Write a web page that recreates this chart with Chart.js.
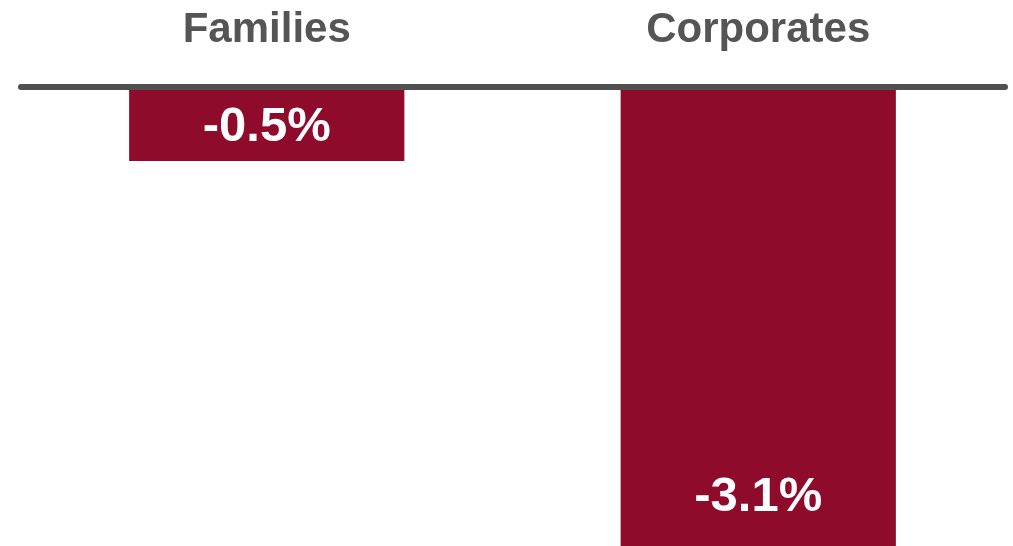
<!DOCTYPE html>
<html>
<head>
<meta charset="utf-8">
<script src="https://cdn.jsdelivr.net/npm/chart.js@4.4.1/dist/chart.umd.min.js"></script>
<style>
  html, body { margin: 0; padding: 0; background: #ffffff; overflow: hidden; }
  #wrap { width: 1013px; height: 546px; position: relative; }
</style>
</head>
<body>
<div id="wrap"><canvas id="c" width="1013" height="546"></canvas></div>
<script>
const categories = ['Families', 'Corporates'];
const values = [-0.5, -3.1];
const valueLabels = ['-0.5%', '-3.1%'];

const FONT = "'Liberation Sans', Arial, Helvetica, sans-serif";

const zeroLine = {
  id: 'zeroLine',
  afterDatasetsDraw(chart) {
    const ctx = chart.ctx;
    const y = chart.scales.y.getPixelForValue(0);
    ctx.save();
    ctx.strokeStyle = '#505050';
    ctx.lineWidth = 6;
    ctx.lineCap = 'round';
    ctx.beginPath();
    ctx.moveTo(21, y);
    ctx.lineTo(1005, y);
    ctx.stroke();
    ctx.restore();
  }
};

const valueLabelPlugin = {
  id: 'valueLabels',
  afterDraw(chart) {
    const ctx = chart.ctx;
    const meta = chart.getDatasetMeta(0);
    const area = chart.chartArea;
    ctx.save();
    ctx.fillStyle = '#ffffff';
    ctx.font = 'bold 49px ' + FONT;
    ctx.textAlign = 'center';
    ctx.textBaseline = 'middle';
    meta.data.forEach((bar, i) => {
      const end = Math.min(bar.y, area.bottom);
      const mid = (bar.base + end) / 2 + 3;
      const y = Math.max(mid, end - 49);
      ctx.fillText(valueLabels[i], bar.x, y);
    });
    ctx.restore();
  }
};

new Chart(document.getElementById('c'), {
  type: 'bar',
  data: {
    labels: categories,
    datasets: [{
      data: values,
      backgroundColor: '#8E0B2C',
      borderWidth: 0,
      barPercentage: 0.56,
      categoryPercentage: 1.0
    }]
  },
  options: {
    responsive: false,
    animation: false,
    layout: { padding: { left: 21, right: 9, top: 0, bottom: 0 } },
    plugins: { legend: { display: false }, tooltip: { enabled: false } },
    scales: {
      x: {
        position: 'top',
        grid: { display: false, drawTicks: false },
        border: { display: false },
        ticks: {
          color: '#555555',
          font: { family: FONT, size: 42, weight: 'bold' },
          padding: 31,
          maxRotation: 0
        },
        afterFit(scale) { scale.height = 87; }
      },
      y: {
        display: false,
        min: -3.1,
        max: 0
      }
    }
  },
  plugins: [zeroLine, valueLabelPlugin]
});
</script>
</body>
</html>
